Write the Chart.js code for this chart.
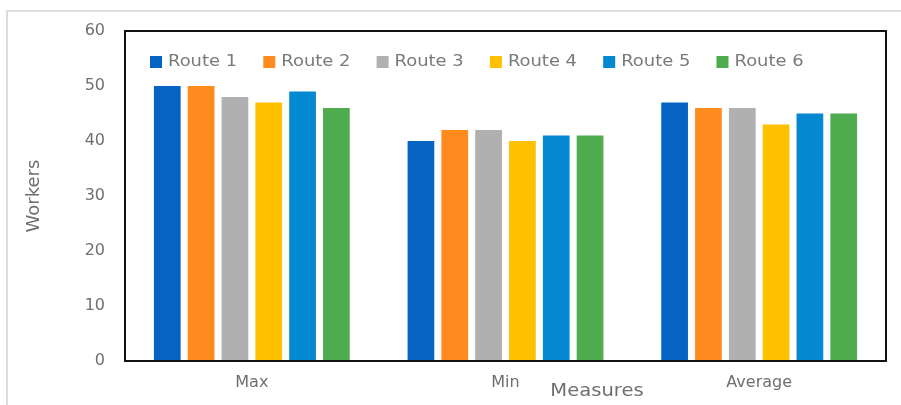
<!DOCTYPE html>
<html>
<head>
<meta charset="utf-8">
<script src="https://cdn.jsdelivr.net/npm/chart.js@4"></script>
<style>
  html, body { margin: 0; padding: 0; background: #fff; }
  #wrap { width: 901px; height: 405px; }
</style>
</head>
<body>
<div id="wrap"><canvas id="chart"></canvas></div>
<script>
const measures = ['Max', 'Min', 'Average'];
const routeNames = ['Route 1', 'Route 2', 'Route 3', 'Route 4', 'Route 5', 'Route 6'];
const route1 = [50, 40, 47];
const route2 = [50, 42, 46];
const route3 = [48, 42, 46];
const route4 = [47, 40, 43];
const route5 = [49, 41, 45];
const route6 = [46, 41, 45];
const yTicks = [0, 10, 20, 30, 40, 50, 60];

const routeColors = ['#0563c4', '#ff8a1e', '#b0b0b0', '#ffc000', '#0488d2', '#4eac4e'];
const allRoutes = [route1, route2, route3, route4, route5, route6];
const textGray = '#6f6f6f';

// frame around whole picture, border round plot, legend inside plot, x title
const framePlugin = {
    id: 'frame',
    beforeDraw(chart) {
        const ctx = chart.ctx;
        ctx.save();
        ctx.strokeStyle = '#dcdcdc';
        ctx.lineWidth = 2;
        ctx.beginPath();
        ctx.moveTo(7, 405);
        ctx.lineTo(7, 11);
        ctx.lineTo(901, 11);
        ctx.stroke();
        ctx.restore();
    },
    afterDraw(chart) {
        const { ctx, chartArea } = chart;
        ctx.save();
        ctx.strokeStyle = '#111';
        ctx.lineWidth = 2;
        ctx.strokeRect(chartArea.left, chartArea.top, chartArea.right - chartArea.left, chartArea.bottom - chartArea.top);

        // legend
        ctx.font = '16px "DejaVu Sans"';
        ctx.textBaseline = 'middle';
        ctx.textAlign = 'left';
        chart.data.datasets.forEach((ds, i) => {
            const x = chartArea.left + 25 + i * 113.3;
            const y = chartArea.top + 31;
            ctx.fillStyle = ds.backgroundColor;
            ctx.fillRect(x, y - 6, 12, 12);
            ctx.fillStyle = '#7a7a7a';
            ctx.save();
            ctx.translate(x + 18, y);
            ctx.scale(1.12, 1);
            ctx.fillText(ds.label, 0, 0);
            ctx.restore();
        });

        ctx.fillStyle = textGray;
        ctx.font = '17px "DejaVu Sans"';
        ctx.textAlign = 'center';
        ctx.save();
        ctx.translate(597, 392);
        ctx.scale(1.15, 1);
        ctx.fillText('Measures', 0, 0);
        ctx.restore();
        ctx.restore();
    }
};

const ctx = document.getElementById('chart').getContext('2d');
new Chart(ctx, {
    type: 'bar',
    data: {
        labels: measures,
        datasets: routeNames.map((name, i) => ({
            label: name,
            data: allRoutes[i],
            backgroundColor: routeColors[i],
            borderWidth: 0
        }))
    },
    options: {
        responsive: true,
        maintainAspectRatio: false,
        animation: false,
        layout: { padding: { top: 31, right: 15, bottom: 0, left: 0 } },
        datasets: {
            bar: { categoryPercentage: 0.8, barPercentage: 0.79 }
        },
        plugins: {
            tooltip: { enabled: false },
            legend: { display: false }
        },
        scales: {
            x: {
                grid: { display: false, drawTicks: false },
                border: { display: false },
                ticks: { color: textGray, padding: 12, font: { family: 'DejaVu Sans', size: 16 } },
                afterFit(scale) { scale.height = 44; }
            },
            y: {
                min: 0,
                max: 60,
                grid: { display: false, drawTicks: false },
                border: { display: false },
                afterBuildTicks(scale) { scale.ticks = yTicks.map(v => ({ value: v })); },
                ticks: { color: textGray, padding: 20, font: { family: 'DejaVu Sans', size: 16 } },
                title: {
                    display: true,
                    text: 'Workers',
                    color: textGray,
                    padding: { top: 24, bottom: 0 },
                    font: { family: 'DejaVu Sans', size: 18 }
                },
                afterFit(scale) { scale.width = 125; }
            }
        }
    },
    plugins: [framePlugin]
});
</script>
</body>
</html>
